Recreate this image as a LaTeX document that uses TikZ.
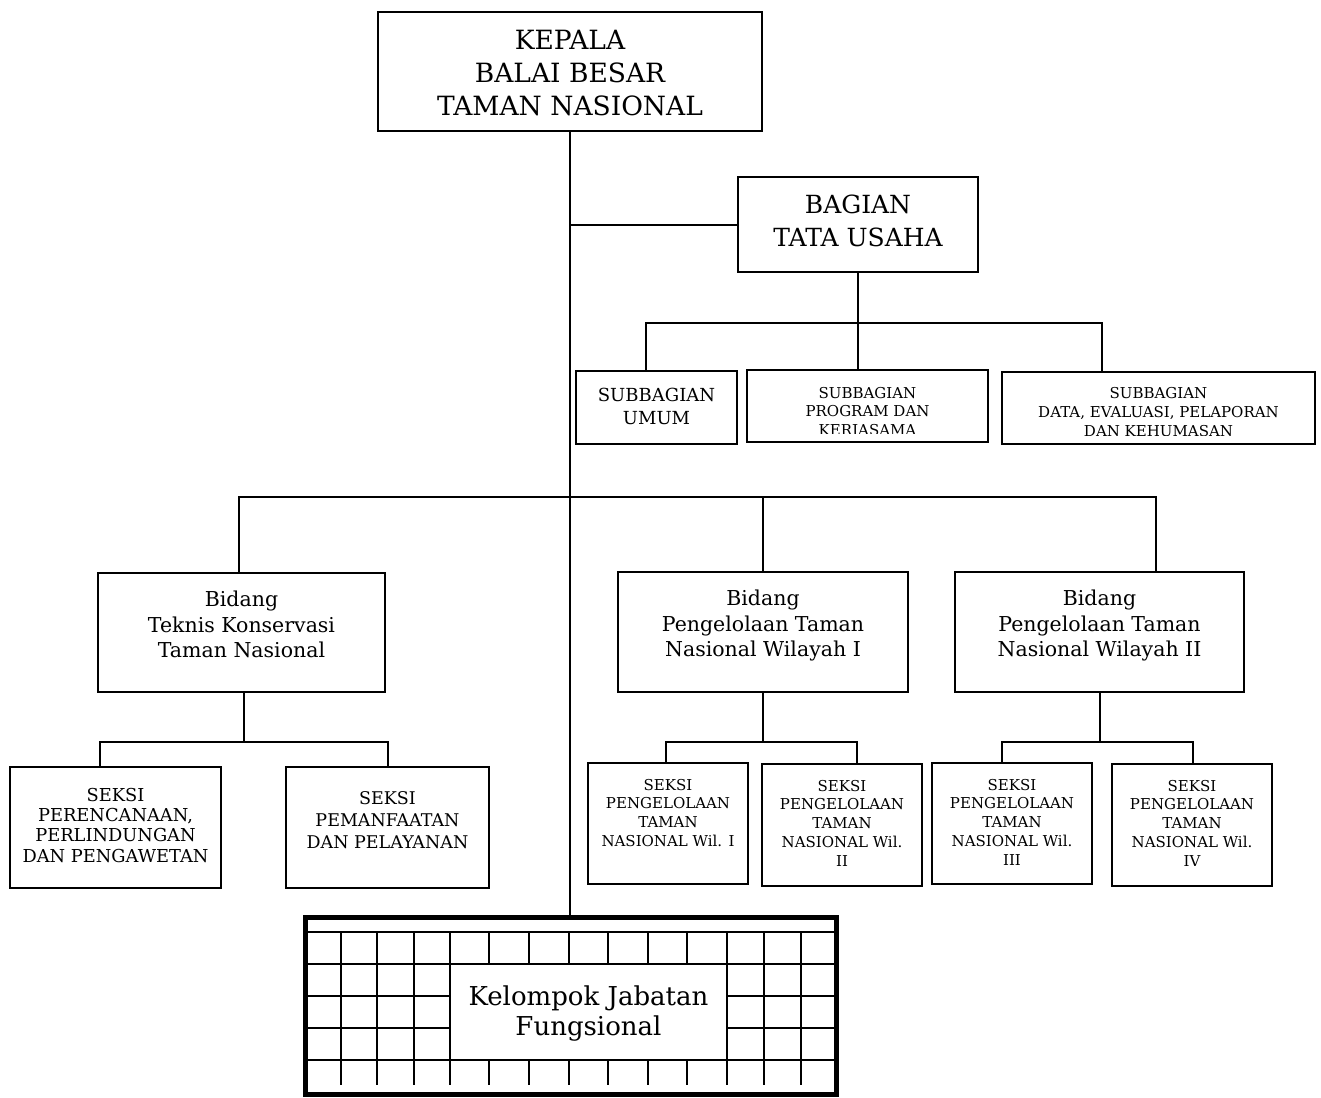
\documentclass[tikz,border=0pt]{standalone}
\usepackage{fontspec}
\setmainfont{DejaVu Serif}
\begin{document}
\begin{tikzpicture}[x=1pt, y=-1pt, line width=2pt,
  unit/.style={draw, line width=2pt, rectangle, inner sep=0pt},
  lbl/.style={anchor=north, inner sep=0pt, align=center},
  big/.style={font=\fontsize{25}{33}\selectfont},
  mid/.style={font=\fontsize{20.5}{25.5}\selectfont},
  sml/.style={font=\fontsize{15}{18.8}\selectfont},
  gridline/.style={line width=2pt}]
\useasboundingbox (0,0) rectangle (1321,1097);
\fill[white] (0,0) rectangle (1321,1097);

% --- head of office and administration ---
\node[unit, minimum width=384pt, minimum height=119pt] (kepala) at (570,71.5) {};
\node[lbl, font=\fontsize{26.5}{33}\selectfont] (kepalaT) at (570,29.3) {KEPALA\\BALAI BESAR\\TAMAN NASIONAL};

\node[unit, minimum width=240pt, minimum height=95pt] (bagian) at (858,224.5) {};
\node[lbl, big] (bagianT) at (858,193.8) {BAGIAN\\TATA USAHA};

\node[unit, minimum width=161pt, minimum height=73pt] (sub1) at (656.5,407.5) {};
\node[lbl, font=\fontsize{18}{22.7}\selectfont] (sub1T) at (656.5,387) {SUBBAGIAN\\UMUM};

\node[unit, minimum width=241pt, minimum height=72pt] (sub2) at (867.5,406) {};
\begin{scope}
  \clip (sub2.north west) rectangle ([yshift=10pt]sub2.south east);
  \node[lbl, font=\fontsize{15}{18.5}\selectfont] (sub2T) at (867.5,386) {SUBBAGIAN\\PROGRAM DAN\\KERJASAMA};
\end{scope}

\node[unit, minimum width=313pt, minimum height=72pt] (sub3) at (1158.5,408) {};
\begin{scope}
  \clip (sub3.north west) rectangle ([yshift=10pt]sub3.south east);
  \node[lbl, font=\fontsize{15}{19}\selectfont] (sub3T) at (1158.5,386) {SUBBAGIAN\\DATA, EVALUASI, PELAPORAN\\DAN KEHUMASAN};
\end{scope}

% --- divisions ---
\node[unit, minimum width=287pt, minimum height=119pt] (bid1) at (241.5,632.5) {};
\node[lbl, mid] (bid1T) at (241.5,590.4) {Bidang\\Teknis Konservasi\\Taman Nasional};

\node[unit, minimum width=290pt, minimum height=120pt] (bid2) at (763,632) {};
\node[lbl, mid] (bid2T) at (763,589.4) {Bidang\\Pengelolaan Taman\\Nasional Wilayah I};

\node[unit, minimum width=289pt, minimum height=120pt] (bid3) at (1099.5,632) {};
\node[lbl, mid] (bid3T) at (1099.5,589.4) {Bidang\\Pengelolaan Taman\\Nasional Wilayah II};

% --- sections ---
\node[unit, minimum width=211pt, minimum height=121pt] (sek1) at (115.5,827.5) {};
\node[lbl, font=\fontsize{17.8}{20.3}\selectfont] (sek1T) at (115.5,787) {SEKSI\\PERENCANAAN,\\PERLINDUNGAN\\DAN PENGAWETAN};

\node[unit, minimum width=203pt, minimum height=121pt] (sek2) at (387.5,827.5) {};
\node[lbl, font=\fontsize{17.5}{22}\selectfont] (sek2T) at (387.5,790.2) {SEKSI\\PEMANFAATAN\\DAN PELAYANAN};

\node[unit, minimum width=160pt, minimum height=121pt] (sek3) at (668,823.5) {};
\node[lbl, sml] (sek3T) at (668,778) {SEKSI\\PENGELOLAAN\\TAMAN\\NASIONAL Wil. I};

\node[unit, minimum width=160pt, minimum height=122pt] (sek4) at (842,825) {};
\node[lbl, sml] (sek4T) at (842,779) {SEKSI\\PENGELOLAAN\\TAMAN\\NASIONAL Wil.\\II};

\node[unit, minimum width=160pt, minimum height=121pt] (sek5) at (1012,823.5) {};
\node[lbl, sml] (sek5T) at (1012,778) {SEKSI\\PENGELOLAAN\\TAMAN\\NASIONAL Wil.\\III};

\node[unit, minimum width=160pt, minimum height=122pt] (sek6) at (1192,825) {};
\node[lbl, sml] (sek6T) at (1192,779) {SEKSI\\PENGELOLAAN\\TAMAN\\NASIONAL Wil.\\IV};

% --- functional group: framed grid with a blank centre panel ---
\foreach \gx in {341,377,414,450,727,764,801}
  \draw[gridline] (\gx,932) -- (\gx,1085);
\foreach \gx in {489,529,569,608,648,687} {
  \draw[gridline] (\gx,932) -- (\gx,964);
  \draw[gridline] (\gx,1060) -- (\gx,1085);
}
\draw[gridline] (305,932) -- (836,932);
\draw[gridline] (305,964) -- (836,964);
\draw[gridline] (305,1060) -- (836,1060);
\foreach \gy in {996,1028} {
  \draw[gridline] (305,\gy) -- (450,\gy);
  \draw[gridline] (727,\gy) -- (836,\gy);
}
\node[draw, line width=5pt, rectangle, inner sep=0pt,
      minimum width=531pt, minimum height=177pt] (kjf) at (570.5,1005.5) {};
\node[lbl, font=\fontsize{26}{30}\selectfont] (kjfT) at (588.5,985.2) {Kelompok Jabatan\\Fungsional};

% --- connectors ---
\draw (kepala.south) -- (kepala.south |- kjf.north);
\draw (bagian.west) -- (bagian.west -| kepala.south);

\coordinate (s1) at (646,323);
\coordinate (s3) at (1102,323);
\draw (bagian.south) -- (bagian.south |- sub2.north);
\draw (s1 |- sub1.north) -- (s1) -- (s3) -- (s3 |- sub3.north);

\coordinate (b1) at (239,497);
\coordinate (b3) at (1156,497);
\draw (b1 |- bid1.north) -- (b1) -- (b3) -- (b3 |- bid3.north);
\draw (bid2.north |- b1) -- (bid2.north);

\coordinate (k0) at (244,742);
\coordinate (k1) at (100,742);
\coordinate (k2) at (388,742);
\draw (k0 |- bid1.south) -- (k0);
\draw (k1 |- sek1.north) -- (k1) -- (k2) -- (k2 |- sek2.north);

\coordinate (p1) at (666,742);
\coordinate (p2) at (857,742);
\draw (bid2.south) -- (bid2.south |- p1);
\draw (p1 |- sek3.north) -- (p1) -- (p2) -- (p2 |- sek4.north);

\coordinate (q1) at (1002,742);
\coordinate (q2) at (1193,742);
\draw (bid3.south) -- (bid3.south |- q1);
\draw (q1 |- sek5.north) -- (q1) -- (q2) -- (q2 |- sek6.north);
\end{tikzpicture}
\end{document}
